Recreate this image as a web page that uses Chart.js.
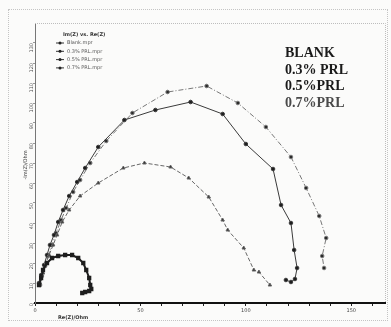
<!DOCTYPE html>
<html>
<head>
<meta charset="utf-8">
<script src="https://cdn.jsdelivr.net/npm/chart.js@4"></script>
<style>
  html, body { margin: 0; padding: 0; background: #fbfbfa; }
  #wrap { position: relative; width: 391px; height: 327px; }
  #frame { position: absolute; left: 8px; top: 9px; width: 380px; height: 312px; border: 1px dotted #c4c4c4; box-sizing: border-box; }
  #notes { position: absolute; left: 285px; top: 45px; font-family: "Liberation Serif", serif; font-weight: bold; font-size: 14px; line-height: 16.7px; color: #1a1a1a; }
  #notes .light { color: #4a4a4a; }
</style>
</head>
<body>
<div id="wrap">
  <div id="frame"></div>
  <canvas id="nyquist" width="391" height="327"></canvas>
  <div id="notes">
    <div>BLANK</div>
    <div>0.3% PRL</div>
    <div>0.5%PRL</div>
    <div class="light">0.7%PRL</div>
  </div>
</div>
<script>
// Nyquist data (Re(Z) / -Im(Z) in Ohm)
const seriesNames = ['Blank.mpr', '0.3% PRL.mpr', '0.5% PRL.mpr', '0.7% PRL.mpr'];

const blankRe = [1.9, 2.9, 3.8, 5.7, 8.1, 11, 14.3, 17.6, 20.5, 22.9, 24.3, 25.7, 26.2, 26.7, 25.7, 23.8, 22.4];
const blankIm = [9, 12.5, 16.5, 20, 22.5, 23.5, 24, 24, 22.5, 20, 16.5, 12.5, 9, 7, 6, 5.5, 5];

const prl03Re = [2.4, 3.8, 5.2, 6.7, 8.6, 10.5, 12.9, 16.2, 21.4, 30, 41.9, 51.9, 64.3, 72.9, 82.4, 89, 91.4, 99, 103.8, 106.2, 111.4];
const prl03Im = [10, 15, 20, 24, 29, 34, 40.5, 46.5, 53.5, 60, 67.5, 70, 68, 62.5, 53, 41.5, 36.5, 27.5, 16.5, 15.5, 9];

const prl05Re = [1.9, 2.9, 4.3, 5.7, 7.1, 9, 11, 13.3, 16.2, 20, 23.8, 30, 42.4, 57.1, 73.8, 89, 100, 112.9, 116.7, 121.4, 122.9, 124.3, 123.3, 121.4, 119];
const prl05Im = [10, 14, 19, 24, 29, 34, 40.5, 46.5, 53.5, 60.5, 67.5, 78, 91.5, 96.5, 100.5, 94.5, 79.5, 67, 49, 40, 26.5, 17.5, 12, 10.5, 11.5];

const prl07Re = [2.4, 3.3, 4.8, 6.2, 8.1, 10, 12.4, 14.8, 18.1, 21.4, 26.2, 33.8, 46.2, 62.9, 81.4, 96.2, 109.5, 121.4, 128.6, 134.8, 138.1, 136.2, 137.1];
const prl07Im = [9, 13.5, 18.5, 23.5, 29, 35, 41.5, 47.5, 55.5, 61.5, 70, 81, 95, 105.5, 108.5, 100, 88, 73, 57.5, 43.5, 32.5, 23.5, 17.5];

const xTickLabels = [0, 50, 100, 150];
const yTickLabels = [0, 10, 20, 30, 40, 50, 60, 70, 80, 90, 100, 110, 120, 130];

function toPoints(re, im) {
    return re.map((x, i) => ({ x: x, y: im[i] }));
}

// small legend box inside the plot, plus the dotted frame around the plot area
const plotExtras = {
    id: 'plotExtras',
    afterDraw(chart) {
        const ctx = chart.ctx;
        const area = chart.chartArea;
        ctx.save();
        ctx.strokeStyle = '#bdbdbd';
        ctx.lineWidth = 1;
        ctx.setLineDash([1, 1]);
        ctx.beginPath();
        ctx.moveTo(area.left, area.top + 0.5);
        ctx.lineTo(area.right + 0.5, area.top + 0.5);
        ctx.lineTo(area.right + 0.5, area.bottom);
        ctx.stroke();
        ctx.setLineDash([]);

        ctx.fillStyle = '#333';
        ctx.font = 'bold 5px "DejaVu Sans"';
        ctx.textBaseline = 'middle';
        ctx.fillText('Im(Z) vs. Re(Z)', 63, 35);
        ctx.font = '5px "DejaVu Sans"';
        chart.data.datasets.forEach((ds, i) => {
            const y = 43 + i * 8.3;
            ctx.strokeStyle = '#333';
            ctx.lineWidth = 1;
            ctx.beginPath();
            ctx.moveTo(56, y);
            ctx.lineTo(64, y);
            ctx.stroke();
            ctx.beginPath();
            ctx.arc(60, y, 1.5, 0, Math.PI * 2);
            ctx.fillStyle = '#222';
            ctx.fill();
            ctx.fillStyle = '#555';
            ctx.fillText(ds.label, 67, y);
        });

        ctx.fillStyle = '#333';
        ctx.font = 'bold 5px "DejaVu Sans"';
        ctx.fillText('Re(Z)/Ohm', 58, 318);
        ctx.translate(26, 165);
        ctx.rotate(-Math.PI / 2);
        ctx.textAlign = 'center';
        ctx.font = '5px "DejaVu Sans"';
        ctx.fillText('-Im(Z)/Ohm', 0, 0);
        ctx.restore();
    }
};

const ctx = document.getElementById('nyquist').getContext('2d');
new Chart(ctx, {
    type: 'scatter',
    data: {
        datasets: [{
            label: seriesNames[0],
            data: toPoints(blankRe, blankIm),
            showLine: true,
            borderColor: '#1e1e1e',
            backgroundColor: '#1e1e1e',
            borderWidth: 2,
            pointRadius: 1.6,
            pointStyle: 'rect'
        }, {
            label: seriesNames[1],
            data: toPoints(prl03Re, prl03Im),
            showLine: true,
            borderColor: '#666',
            backgroundColor: '#2a2a2a',
            borderWidth: 1,
            borderDash: [4, 2],
            pointRadius: 2,
            pointStyle: 'triangle'
        }, {
            label: seriesNames[2],
            data: toPoints(prl05Re, prl05Im),
            showLine: true,
            borderColor: '#3a3a3a',
            backgroundColor: '#1e1e1e',
            borderWidth: 1,
            pointRadius: 1.8
        }, {
            label: seriesNames[3],
            data: toPoints(prl07Re, prl07Im),
            showLine: true,
            borderColor: '#777',
            backgroundColor: '#2a2a2a',
            borderWidth: 1,
            borderDash: [5, 2, 1, 2],
            pointRadius: 1.8
        }]
    },
    options: {
        responsive: false,
        animation: false,
        layout: { padding: { top: 23, right: 6, left: 0, bottom: 0 } },
        plugins: {
            legend: { display: false },
            tooltip: { enabled: false }
        },
        scales: {
            x: {
                type: 'linear',
                min: 0,
                max: 166,
                afterFit: s => { s.height = 24; },
                afterBuildTicks: s => {
                    const ticks = [];
                    for (let v = 0; v <= 160; v += 10) ticks.push({ value: v });
                    s.ticks = ticks;
                },
                ticks: {
                    maxRotation: 0,
                    autoSkip: false,
                    padding: 2,
                    color: '#444',
                    font: { size: 5, family: 'DejaVu Sans' },
                    callback: v => xTickLabels.includes(v) ? String(v) : ''
                },
                grid: { drawOnChartArea: false, drawTicks: true, tickLength: 3, color: '#222' },
                border: { color: '#111', width: 2 }
            },
            y: {
                type: 'linear',
                min: 0,
                max: 140,
                afterFit: s => { s.width = 35; },
                afterBuildTicks: s => {
                    s.ticks = yTickLabels.map(v => ({ value: v }));
                },
                ticks: {
                    minRotation: 90,
                    maxRotation: 90,
                    autoSkip: false,
                    padding: 1,
                    color: '#555',
                    font: { size: 5, family: 'DejaVu Sans' }
                },
                grid: { drawOnChartArea: false, drawTicks: true, tickLength: 2, color: '#999' },
                border: { color: '#777', width: 1, dash: [1, 1] }
            }
        }
    },
    plugins: [plotExtras]
});
</script>
</body>
</html>
